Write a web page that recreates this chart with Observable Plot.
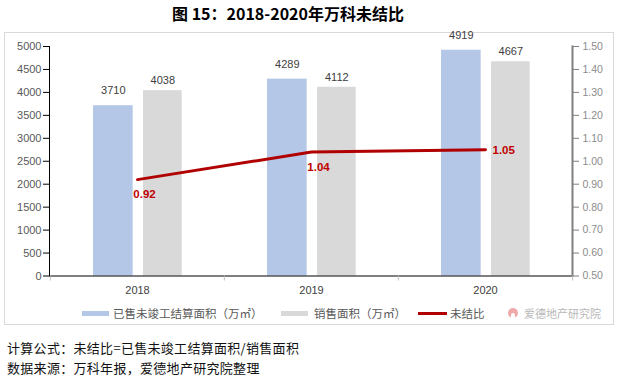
<!DOCTYPE html>
<html><head><meta charset="utf-8">
<script src="https://cdn.jsdelivr.net/npm/d3@7"></script>
<script src="https://cdn.jsdelivr.net/npm/@observablehq/plot@0.6"></script>
<style>
body{margin:0;background:#fff;width:618px;height:378px;position:relative;overflow:hidden;font-family:"Liberation Sans","Noto Sans CJK SC",sans-serif;}
#title{position:absolute;left:172px;top:3px;line-height:21px;font-size:16px;font-weight:bold;color:#000;font-family:"Noto Sans CJK SC",sans-serif;white-space:nowrap;}
#box{position:absolute;left:4px;top:32px;width:610px;height:293px;box-sizing:border-box;border:1px solid #d9d9d9;}
#chart{position:absolute;left:0;top:0;}
.lg{position:absolute;top:305px;line-height:16px;font-size:11.5px;color:#595959;font-family:"Noto Sans CJK SC",sans-serif;white-space:nowrap;}
.sw{position:absolute;}
.foot{position:absolute;left:7px;font-size:13px;letter-spacing:0.3px;color:#111;font-family:"Noto Sans CJK SC",sans-serif;white-space:nowrap;line-height:18px;}
</style></head>
<body>
<div id="title">图 15：2018-2020年万科未结比</div>
<div id="box"></div>
<div id="chart"></div>
<div class="sw" style="left:82px;top:311px;width:27px;height:5px;background:#B4C7E7"></div>
<div class="lg" style="left:113px">已售未竣工结算面积（万㎡）</div>
<div class="sw" style="left:281px;top:311px;width:27px;height:5px;background:#D9D9D9"></div>
<div class="lg" style="left:314px">销售面积（万㎡）</div>
<div class="sw" style="left:418px;top:312px;width:29px;height:3px;background:#B00000"></div>
<div class="lg" style="left:450px">未结比</div>
<div class="sw" style="left:508px;top:308px;width:10px;height:10px;border-radius:5px;background:#f0a8a8"></div>
<div class="sw" style="left:511px;top:313px;width:4px;height:5px;border-radius:2px 2px 0 0;background:#fff"></div>
<div class="lg" style="left:524px;color:#b8b8b8;font-size:11px">爱德地产研究院</div>
<div class="foot" style="top:339px">计算公式：未结比=已售未竣工结算面积/销售面积</div>
<div class="foot" style="top:359px">数据来源：万科年报，爱德地产研究院整理</div>
<script>
const years = ["2018", "2019", "2020"];
const soldUnfinished = [3710, 4289, 4919];
const salesArea = [4038, 4112, 4667];
const ratio = [0.92, 1.04, 1.05];
const leftTicks = [0, 500, 1000, 1500, 2000, 2500, 3000, 3500, 4000, 4500, 5000];
const rightTicks = [0.50, 0.60, 0.70, 0.80, 0.90, 1.00, 1.10, 1.20, 1.30, 1.40, 1.50];

// right axis (ratio) mapped onto left scale domain [0,5000]
const rMin = rightTicks[0], rMax = rightTicks[rightTicks.length - 1];
const lMax = leftTicks[leftTicks.length - 1];
const toLeft = r => (r - rMin) / (rMax - rMin) * lMax;
const fromLeft = v => v / lMax * (rMax - rMin) + rMin;

const table = years.map((y, i) => ({year: y, a: soldUnfinished[i], b: salesArea[i], r: toLeft(ratio[i]), rl: ratio[i]}));

const W = 618, ML = 49, MR = 46;
const bw = (W - ML - MR) / years.length;

const chart = Plot.plot({
  width: W, height: 300,
  marginLeft: ML, marginRight: MR, marginTop: 46, marginBottom: 24.5,
  x: {type: "band", domain: years, padding: 0},
  y: {domain: [0, lMax]},
  style: {fontFamily: '"Liberation Sans","Noto Sans CJK SC",sans-serif', background: "transparent", overflow: "visible"},
  marks: [
    Plot.barY(table, {x: "year", y: "a", fill: "#B4C7E7", insetLeft: 43, insetRight: bw - 83}),
    Plot.barY(table, {x: "year", y: "b", fill: "#D9D9D9", insetLeft: 93, insetRight: bw - 132}),
    Plot.text(table, {x: "year", y: "a", text: d => String(d.a), dx: 63 - bw / 2, dy: -15, fontSize: 11, fill: "#404040"}),
    Plot.text(table, {x: "year", y: "b", text: d => String(d.b), dx: 112.5 - bw / 2, dy: -10, fontSize: 11, fill: "#404040"}),
    Plot.ruleY([0], {stroke: "#000"}),
    Plot.frame({anchor: "left", stroke: "#000"}),
    Plot.frame({anchor: "right", stroke: "#7f7f7f", strokeWidth: 2}),
    Plot.ruleX(years, {x: d => d, dx: -bw / 2, y1: 0, y2: 0, insetBottom: -5, stroke: "#bfbfbf"}),
    Plot.ruleX(years.slice(-1), {x: d => d, dx: bw / 2, y1: 0, y2: 0, insetBottom: -5, stroke: "#bfbfbf"}),
    Plot.axisY(leftTicks, {anchor: "left", tickSize: 6, tickPadding: 2, stroke: "#000", fill: "#595959", fontSize: 11, label: null, tickFormat: d => String(d)}),
    Plot.axisY(rightTicks.map(toLeft), {anchor: "right", tickSize: 6, tickPadding: 4, stroke: "#7f7f7f", fill: "#8c8c8c", fontSize: 10.5, label: null, tickFormat: d => fromLeft(d).toFixed(2)}),
    Plot.axisX({tickSize: 0, tickPadding: 10, fontSize: 11, fill: "#404040", label: null}),
    Plot.line(table, {x: "year", y: "r", stroke: "#B00000", strokeWidth: 3}),
    Plot.text(table.slice(0, 2), {x: "year", y: "r", text: d => d.rl.toFixed(2), dx: 7, dy: 15, fontSize: 11.5, fontWeight: "bold", fill: "#C00000"}),
    Plot.text(table.slice(2), {x: "year", y: "r", text: d => d.rl.toFixed(2), textAnchor: "start", dx: 7, dy: 1, fontSize: 11.5, fontWeight: "bold", fill: "#C00000"})
  ]
});
document.getElementById("chart").appendChild(chart);
</script>
</body></html>
